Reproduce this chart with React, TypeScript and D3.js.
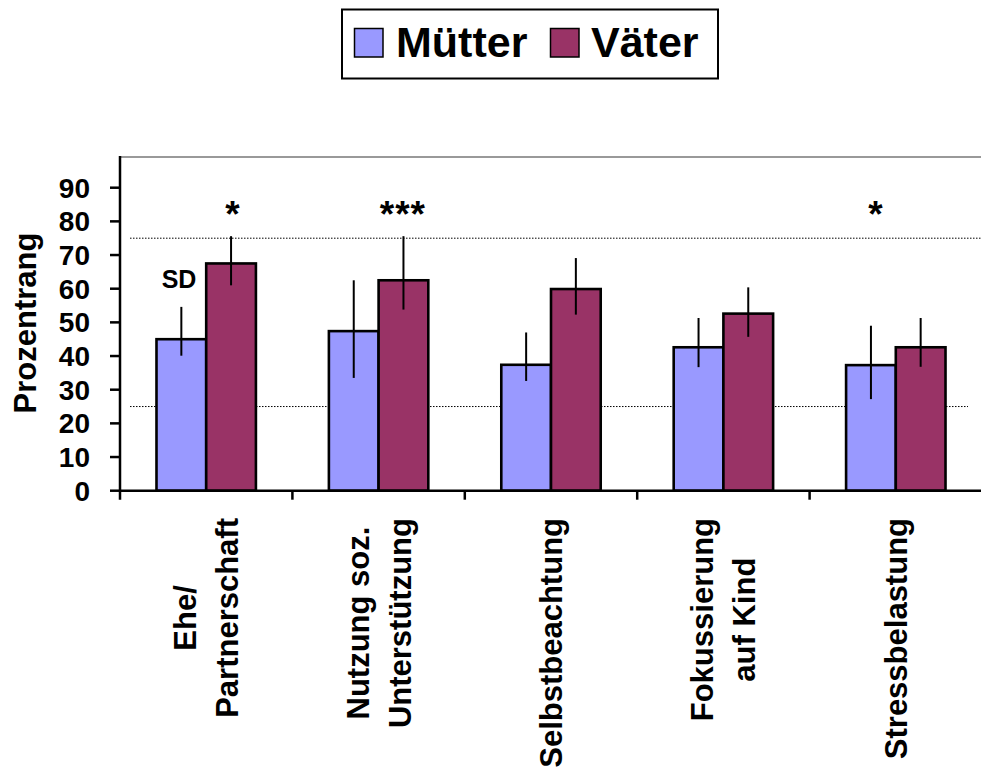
import React, { useMemo } from "react";
import * as d3 from "d3";

const categories = [
  ["Ehe/", "Partnerschaft"],
  ["Nutzung soz.", "Unterstützung"],
  ["Selbstbeachtung"],
  ["Fokussierung", "auf Kind"],
  ["Stressbelastung"],
];
const seriesNames = ["Mütter", "Väter"];
const seriesColors = ["#9999FF", "#993366"];
const muetterValues = [45.0, 47.4, 37.4, 42.6, 37.3];
const muetterUpper = [54.6, 62.5, 47.0, 51.3, 49.0];
const muetterLower = [40.1, 33.5, 32.6, 36.7, 27.2];
const vaeterValues = [67.5, 62.5, 59.9, 52.6, 42.6];
const vaeterUpper = [75.6, 75.6, 69.1, 60.4, 51.3];
const vaeterLower = [61.0, 53.8, 52.3, 45.7, 36.8];
const yTicks = [0, 10, 20, 30, 40, 50, 60, 70, 80, 90];
const refLines = [75, 25];
const sigMarks = [
  { cat: 0, pos: 0.655, label: "*" },
  { cat: 1, pos: 0.641, label: "***" },
  { cat: 4, pos: 0.385, label: "*" },
];

const FONT = "'Liberation Sans', Arial, Helvetica, sans-serif";

export default function App() {
  const W = 981;
  const H = 771;
  const left = 120;
  const catRight = 982;
  const plotTop = 157;
  const y = d3.scaleLinear().domain([0, 90]).range([490.7, 187.7]);
  const y0 = y(0);
  const cats = categories.map((_, i) => String(i));
  const x0 = d3.scaleBand().domain(cats).range([left, catRight]).padding(0);
  const x1 = d3
    .scaleBand()
    .domain(seriesNames)
    .range([0, x0.bandwidth()])
    .paddingInner(0)
    .paddingOuter(0.734);

  const series = [
    { name: seriesNames[0], color: seriesColors[0], v: muetterValues, hi: muetterUpper, lo: muetterLower },
    { name: seriesNames[1], color: seriesColors[1], v: vaeterValues, hi: vaeterUpper, lo: vaeterLower },
  ];

  const labelWidths = useMemo(() => {
    const c = document.createElement("canvas").getContext("2d");
    if (!c) return categories.map(() => 200);
    c.font = `bold 31px ${FONT}`;
    return categories.map((lines) => d3.max(lines, (l) => c.measureText(l).width) || 0);
  }, []);

  const lineGap = 42;

  return (
    <svg width={W} height={H} style={{ position: "absolute", left: 0, top: 0 }} fontFamily={FONT}>
      <rect x={0} y={0} width={W} height={H} fill="#fff" />
      {/* Legend */}
      <rect x={342} y={9.5} width={376} height={69} fill="#fff" stroke="#000" strokeWidth={2} />
      <rect x={354.5} y={28.5} width={28.5} height={28.5} fill={seriesColors[0]} stroke="#000" strokeWidth={1.5} />
      <text x={396} y={57} fontSize={43} fontWeight="bold">{seriesNames[0]}</text>
      <rect x={550.5} y={28.5} width={28.5} height={28.5} fill={seriesColors[1]} stroke="#000" strokeWidth={1.5} />
      <text x={591} y={57} fontSize={43} fontWeight="bold">{seriesNames[1]}</text>

      {/* top frame line */}
      <line x1={left} x2={W} y1={plotTop} y2={plotTop} stroke="#999" strokeWidth={2} />

      {/* reference dotted lines */}
      {refLines.map((r, i) => (
        <line
          key={r}
          x1={130}
          x2={i === 0 ? W : 968}
          y1={y(r)}
          y2={y(r)}
          stroke="#000"
          strokeWidth={1}
          strokeDasharray="1.5,1.5"
        />
      ))}

      {/* bars */}
      {series.map((s) =>
        cats.map((c, i) => {
          const bx = (x0(c) || 0) + (x1(s.name) || 0);
          return (
            <rect
              key={s.name + c}
              x={bx}
              y={y(s.v[i])}
              width={x1.bandwidth()}
              height={y0 - y(s.v[i])}
              fill={s.color}
              stroke="#000"
              strokeWidth={2.6}
            />
          );
        })
      )}
      {/* error bars */}
      {series.map((s) =>
        cats.map((c, i) => {
          const cx = (x0(c) || 0) + (x1(s.name) || 0) + x1.bandwidth() / 2;
          return (
            <line key={"e" + s.name + c} x1={cx} x2={cx} y1={y(s.hi[i])} y2={y(s.lo[i])} stroke="#000" strokeWidth={2} />
          );
        })
      )}

      {/* axes */}
      <line x1={left} x2={left} y1={plotTop - 1} y2={y0 + 9} stroke="#000" strokeWidth={2.5} />
      <line x1={left} x2={W} y1={y0} y2={y0} stroke="#000" strokeWidth={2.5} />
      {yTicks.map((t) => (
        <g key={t}>
          <line x1={left - 10} x2={left} y1={y(t)} y2={y(t)} stroke="#000" strokeWidth={2.5} />
          <text x={90} y={y(t)} dy="0.36em" textAnchor="end" fontSize={28} fontWeight="bold">
            {t}
          </text>
        </g>
      ))}
      {cats.slice(1).map((c) => (
        <line key={"xt" + c} x1={x0(c)} x2={x0(c)} y1={y0} y2={y0 + 9} stroke="#000" strokeWidth={2.5} />
      ))}

      {/* y axis title */}
      <text
        transform={`translate(36, 323) rotate(-90)`}
        textAnchor="middle"
        fontSize={31}
        fontWeight="bold"
      >
        Prozentrang
      </text>

      {/* category labels */}
      {categories.map((lines, i) => {
        const cx = (x0(String(i)) || 0) + x0.bandwidth() / 2;
        const cy = 518 + labelWidths[i] / 2;
        return (
          <g key={"cl" + i} transform={`translate(${cx}, ${cy}) rotate(-90)`}>
            {lines.map((l, j) => (
              <text
                key={j}
                x={0}
                y={(j - (lines.length - 1) / 2) * lineGap + 11}
                textAnchor="middle"
                fontSize={31}
                fontWeight="bold"
              >
                {l}
              </text>
            ))}
          </g>
        );
      })}

      {/* significance marks */}
      {sigMarks.map((m, i) => (
        <text
          key={"s" + i}
          x={(x0(String(m.cat)) || 0) + m.pos * x0.bandwidth()}
          y={227}
          textAnchor="middle"
          fontSize={37}
          fontWeight="bold"
          letterSpacing={1}
        >
          {m.label}
        </text>
      ))}

      {/* SD label */}
      <text x={179} y={288} textAnchor="middle" fontSize={25} fontWeight="bold">
        SD
      </text>
    </svg>
  );
}
